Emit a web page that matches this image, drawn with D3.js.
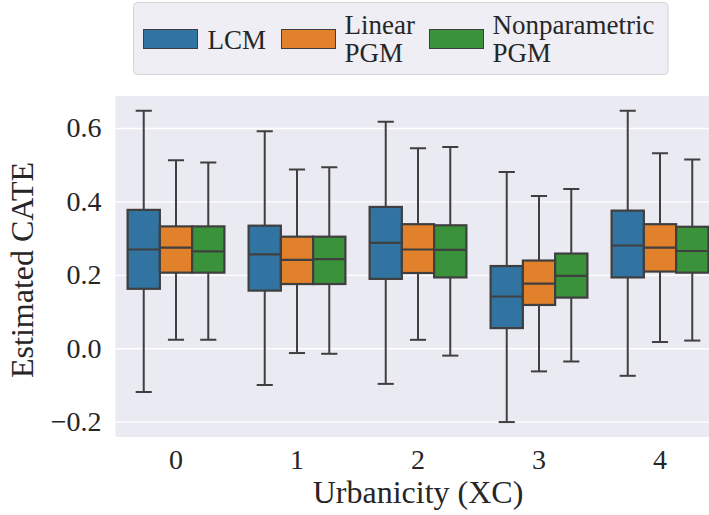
<!DOCTYPE html>
<html>
<head>
<meta charset="utf-8">
<script src="https://cdn.jsdelivr.net/npm/d3@7"></script>
<style>
  html, body { margin: 0; padding: 0; background: #ffffff; }
  svg { display: block; }
</style>
</head>
<body>
<svg id="chart" width="709" height="515"></svg>
<script>
// ---- data ----
const categories = ["0", "1", "2", "3", "4"];
const seriesNames = ["LCM", "Linear\nPGM", "Nonparametric\nPGM"];
const seriesColors = ["#3274a1", "#e1812c", "#3a923a"];
// each entry: [lower whisker, Q1, median, Q3, upper whisker]
const lcmStats = [
  [-0.119, 0.162, 0.269, 0.377, 0.647],
  [-0.100, 0.157, 0.256, 0.334, 0.591],
  [-0.097, 0.189, 0.287, 0.385, 0.617],
  [-0.201, 0.055, 0.141, 0.224, 0.480],
  [-0.075, 0.193, 0.280, 0.375, 0.647]
];
const linearPgmStats = [
  [0.023, 0.206, 0.274, 0.332, 0.512],
  [-0.013, 0.175, 0.241, 0.304, 0.487],
  [0.023, 0.205, 0.269, 0.338, 0.545],
  [-0.063, 0.118, 0.176, 0.239, 0.415],
  [0.017, 0.209, 0.274, 0.338, 0.531]
];
const nonparamPgmStats = [
  [0.023, 0.206, 0.264, 0.332, 0.506],
  [-0.015, 0.175, 0.243, 0.304, 0.493],
  [-0.020, 0.193, 0.268, 0.335, 0.548],
  [-0.036, 0.138, 0.197, 0.258, 0.434],
  [0.021, 0.206, 0.265, 0.331, 0.514]
];
const yTicks = [-0.2, 0.0, 0.2, 0.4, 0.6];
const yTickLabels = ["\u22120.2", "0.0", "0.2", "0.4", "0.6"];
const xLabel = "Urbanicity (XC)";
const yLabel = "Estimated CATE";

const allStats = [lcmStats, linearPgmStats, nonparamPgmStats];

// ---- layout ----
const FONT = "Liberation Serif";
const TXT = "#262626";
const plot = { left: 115.5, right: 720.5, top: 96, bottom: 437 };
const svg = d3.select("#chart");

const x = d3.scaleBand().domain(categories).range([plot.left, plot.right]).paddingInner(0).paddingOuter(0);
const hue = d3.scaleBand().domain(d3.range(seriesNames.length))
  .range([0, x.bandwidth() * 0.8]);
const y = d3.scaleLinear().domain([-0.2417, 0.6872]).range([plot.bottom, plot.top]);

svg.append("defs").append("clipPath").attr("id", "clip").append("rect")
  .attr("x", plot.left).attr("y", plot.top)
  .attr("width", plot.right - plot.left).attr("height", plot.bottom - plot.top);

svg.append("rect")
  .attr("x", plot.left).attr("y", plot.top)
  .attr("width", plot.right - plot.left).attr("height", plot.bottom - plot.top)
  .attr("fill", "#eaeaf2");

function serif(sel, size) {
  sel.attr("font-family", FONT).attr("font-size", size).attr("fill", TXT);
}

// grid + y axis
const yAxis = d3.axisLeft(y).tickValues(yTicks)
  .tickFormat((d, i) => yTickLabels[i])
  .tickSize(-(plot.right - plot.left)).tickPadding(14);
const gy = svg.append("g").attr("transform", `translate(${plot.left},0)`).call(yAxis)
  .attr("font-family", FONT).attr("font-size", 28);
gy.select(".domain").remove();
gy.selectAll(".tick line").attr("stroke", "#ffffff").attr("stroke-width", 1.3);
serif(gy.selectAll(".tick text"), 28);

// x axis
const xAxis = d3.axisBottom(x).tickSize(0).tickPadding(12);
const gx = svg.append("g").attr("transform", `translate(0,${plot.bottom})`).call(xAxis)
  .attr("font-family", FONT).attr("font-size", 28);
gx.select(".domain").remove();
serif(gx.selectAll(".tick text"), 28);

// boxes
const edge = "#3f3f3f";
const boxesG = svg.append("g").attr("clip-path", "url(#clip)");
allStats.forEach((stats, si) => {
  stats.forEach((s, ci) => {
    const [lo, q1, med, q3, hi] = s;
    const x0 = x(categories[ci]) + x.bandwidth() * 0.1 + hue(si);
    const w = hue.bandwidth();
    const cx = x0 + w / 2;
    const g = boxesG.append("g");
    g.append("line").attr("x1", cx).attr("x2", cx).attr("y1", y(q3)).attr("y2", y(hi))
      .attr("stroke", edge).attr("stroke-width", 2);
    g.append("line").attr("x1", cx).attr("x2", cx).attr("y1", y(q1)).attr("y2", y(lo))
      .attr("stroke", edge).attr("stroke-width", 2);
    [lo, hi].forEach(v => {
      g.append("line").attr("x1", cx - w / 4).attr("x2", cx + w / 4)
        .attr("y1", y(v)).attr("y2", y(v))
        .attr("stroke", edge).attr("stroke-width", 2);
    });
    g.append("rect").attr("x", x0).attr("y", y(q3))
      .attr("width", w).attr("height", y(q1) - y(q3))
      .attr("fill", seriesColors[si]).attr("stroke", edge).attr("stroke-width", 2.2);
    g.append("line").attr("x1", x0).attr("x2", x0 + w).attr("y1", y(med)).attr("y2", y(med))
      .attr("stroke", edge).attr("stroke-width", 2.2);
  });
});

// axis labels
svg.append("text").attr("x", (plot.left + plot.right) / 2).attr("y", 503)
  .attr("text-anchor", "middle").call(serif, 32).text(xLabel);
svg.append("text").attr("transform", "translate(33,270) rotate(-90)")
  .attr("text-anchor", "middle").call(serif, 32).text(yLabel);

// legend
const legend = svg.append("g");
legend.append("rect").attr("x", 133.5).attr("y", 2.5).attr("width", 534.5).attr("height", 72)
  .attr("rx", 4).attr("fill", "#eeeef4").attr("stroke", "#d4d4d8").attr("stroke-width", 1);
const patchX = [143.5, 281.5, 429.5];
seriesNames.forEach((name, i) => {
  legend.append("rect").attr("x", patchX[i]).attr("y", 29.5).attr("width", 54).attr("height", 19)
    .attr("fill", seriesColors[i]).attr("stroke", edge).attr("stroke-width", 1);
  const lines = name.split("\n");
  const t = legend.append("text").attr("x", patchX[i] + 64).call(serif, 27);
  if (lines.length === 1) {
    t.attr("y", 49).text(lines[0]);
  } else {
    lines.forEach((ln, k) => {
      t.append("tspan").attr("x", patchX[i] + 63).attr("y", 34 + k * 28).text(ln);
    });
  }
});
</script>
</body>
</html>
